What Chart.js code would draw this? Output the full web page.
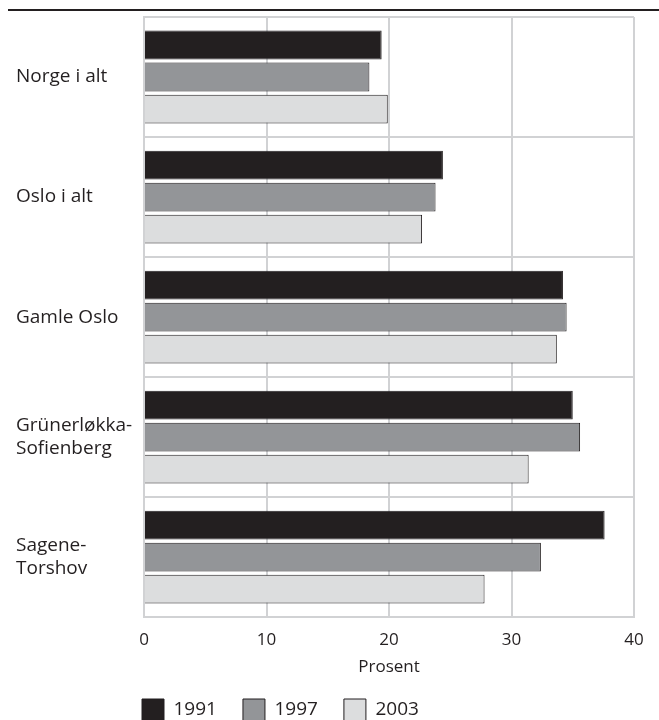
<!DOCTYPE html>
<html>
<head>
<meta charset="utf-8">
<script src="https://cdn.jsdelivr.net/npm/chart.js@4.4.0/dist/chart.umd.min.js"></script>
<style>
    body { margin: 0; background: #fff; }
    #wrap { position: relative; width: 659px; height: 720px; }
    #topRule { position: absolute; left: 8px; right: 0; top: 9px; border-top: 2px solid #231f20; }
</style>
</head>
<body>
<div id="wrap">
    <canvas id="chart" width="659" height="720"></canvas>
    <div id="topRule"></div>
</div>
<script>
// Data (prosent)
const categories = [
    'Norge i alt',
    'Oslo i alt',
    'Gamle Oslo',
    ['Grünerløkka-', 'Sofienberg'],
    ['Sagene-', 'Torshov'],
];
const years = ['1991', '1997', '2003'];
const values1991 = [19.4, 24.4, 34.2, 35.0, 37.6];
const values1997 = [18.4, 23.8, 34.5, 35.6, 32.4];
const values2003 = [19.9, 22.7, 33.7, 31.4, 27.8];
const xTicks = [0, 10, 20, 30, 40];

const textColor = '#231f20';
const gridColor = '#d1d2d4';

const ctx = document.getElementById('chart').getContext('2d');

new Chart(ctx, {
    type: 'bar',
    data: {
        labels: categories,
        datasets: [
            {
                label: years[0],
                data: values1991,
                backgroundColor: '#231f20',
                borderColor: '#231f20',
                borderWidth: 1,
            },
            {
                label: years[1],
                data: values1997,
                backgroundColor: '#939598',
                borderColor: '#231f20',
                borderWidth: 1,
            },
            {
                label: years[2],
                data: values2003,
                backgroundColor: '#dcddde',
                borderColor: '#231f20',
                borderWidth: 1,
            },
        ],
    },
    options: {
        indexAxis: 'y',
        responsive: false,
        animation: false,
        layout: {
            padding: { left: 16, right: 25, top: 17, bottom: -15 },
        },
        font: { family: '"Open Sans", sans-serif' },
        scales: {
            x: {
                min: 0,
                max: 40,
                afterBuildTicks: (scale) => {
                    scale.ticks = xTicks.map(v => ({ value: v }));
                },
                grid: {
                    color: gridColor,
                    lineWidth: 2,
                    drawTicks: false,
                },
                border: { color: gridColor, width: 2 },
                ticks: {
                    color: textColor,
                    padding: 13,
                    font: { family: '"Open Sans", sans-serif', size: 17 },
                },
                title: {
                    display: true,
                    text: 'Prosent',
                    color: textColor,
                    padding: { top: -7, bottom: 0 },
                    font: { family: '"Open Sans", sans-serif', size: 17 },
                },
            },
            y: {
                grid: {
                    color: gridColor,
                    lineWidth: 2,
                    drawTicks: false,
                    offset: true,
                },
                border: { color: gridColor, width: 2 },
                afterFit: (scale) => {
                    scale.width = 128;
                    // labels sit inside their bands, no extra room needed above/below
                    scale.paddingTop = 0;
                    scale.paddingBottom = 0;
                },
                ticks: {
                    color: textColor,
                    crossAlign: 'far',
                    padding: 0,
                    font: { family: '"Open Sans", sans-serif', size: 19, lineHeight: 1.25 },
                },
            },
        },
        plugins: {
            legend: {
                position: 'bottom',
                align: 'start',
                fullSize: false,
                labels: {
                    color: textColor,
                    boxWidth: 22,
                    boxHeight: 22,
                    padding: 26,
                    font: { family: '"Open Sans", sans-serif', size: 19 },
                },
            },
            tooltip: { enabled: false },
        },
    },
    plugins: [
        {
            // line the legend up under the left edge of the plot
            id: 'legendShift',
            afterLayout(chart) {
                const legend = chart.legend;
                legend.left -= 28;
                legend.right -= 28;
                legend.top -= 4;
                legend.bottom -= 4;
            },
        },
        {
            // right border of the plot area
            id: 'rightBorder',
            afterDraw(chart) {
                const { ctx, chartArea } = chart;
                ctx.save();
                ctx.strokeStyle = gridColor;
                ctx.lineWidth = 2;
                ctx.beginPath();
                ctx.moveTo(chartArea.right, chartArea.top);
                ctx.lineTo(chartArea.right, chartArea.bottom);
                ctx.stroke();
                ctx.restore();
            },
        },
    ],
});
</script>
</body>
</html>
